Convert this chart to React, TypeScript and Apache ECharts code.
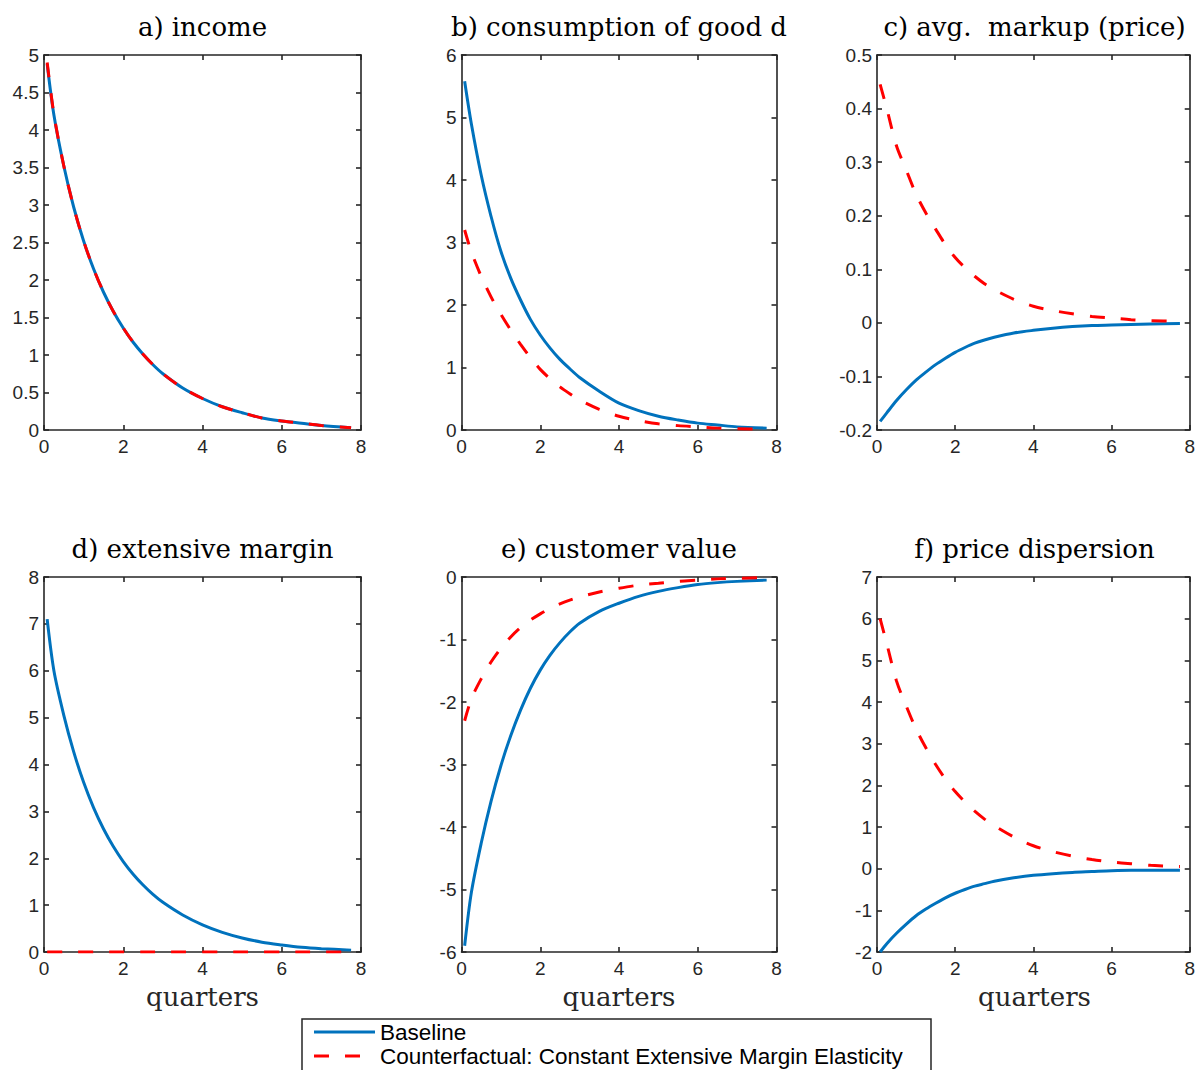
import React, { useEffect, useRef } from "react";
import * as echarts from "echarts";

const quarters = [0.08, 0.25, 0.5, 0.75, 1, 1.25, 1.5, 1.75, 2, 2.25, 2.5, 2.75, 3, 3.5, 4, 4.5, 5, 5.5, 6, 6.5, 7, 7.75];

const incomeBase = [4.88, 4.2, 3.52, 2.97, 2.52, 2.15, 1.84, 1.58, 1.36, 1.17, 1.01, 0.87, 0.75, 0.56, 0.42, 0.31, 0.23, 0.16, 0.12, 0.09, 0.06, 0.03];
const incomeCf = [4.9, 4.21, 3.52, 2.97, 2.52, 2.15, 1.84, 1.58, 1.36, 1.17, 1.01, 0.87, 0.75, 0.56, 0.42, 0.31, 0.23, 0.16, 0.12, 0.09, 0.06, 0.03];

const consBase = [5.58, 4.9, 4.08, 3.42, 2.86, 2.43, 2.08, 1.77, 1.52, 1.31, 1.13, 0.98, 0.84, 0.62, 0.43, 0.31, 0.22, 0.16, 0.11, 0.08, 0.05, 0.03];
const consCf = [3.2, 2.85, 2.46, 2.13, 1.85, 1.6, 1.37, 1.16, 0.97, 0.82, 0.69, 0.58, 0.48, 0.33, 0.22, 0.15, 0.1, 0.07, 0.05, 0.03, 0.02, 0.01];

const markupBase = [-0.184, -0.168, -0.145, -0.125, -0.107, -0.092, -0.078, -0.066, -0.055, -0.046, -0.038, -0.032, -0.027, -0.019, -0.014, -0.01, -0.007, -0.005, -0.004, -0.003, -0.002, -0.001];
const markupCf = [0.445, 0.4, 0.33, 0.285, 0.24, 0.205, 0.175, 0.146, 0.122, 0.103, 0.087, 0.073, 0.062, 0.044, 0.031, 0.023, 0.017, 0.012, 0.009, 0.006, 0.004, 0.003];

const extBase = [7.1, 6.0, 5.05, 4.27, 3.62, 3.08, 2.63, 2.25, 1.93, 1.66, 1.43, 1.23, 1.06, 0.79, 0.58, 0.42, 0.3, 0.21, 0.15, 0.1, 0.07, 0.04];
const extCf = [0, 0, 0, 0, 0, 0, 0, 0, 0, 0, 0, 0, 0, 0, 0, 0, 0, 0, 0, 0, 0, 0];

const custBase = [-5.9, -5.05, -4.26, -3.59, -3.02, -2.54, -2.13, -1.78, -1.49, -1.25, -1.05, -0.88, -0.74, -0.55, -0.42, -0.31, -0.23, -0.17, -0.12, -0.09, -0.07, -0.05];
const custCf = [-2.3, -1.95, -1.63, -1.36, -1.14, -0.96, -0.81, -0.69, -0.59, -0.5, -0.43, -0.37, -0.32, -0.24, -0.18, -0.13, -0.1, -0.07, -0.05, -0.03, -0.02, -0.01];

const dispBase = [-2.0, -1.8, -1.55, -1.33, -1.13, -0.97, -0.83, -0.7, -0.59, -0.5, -0.42, -0.36, -0.3, -0.22, -0.16, -0.12, -0.09, -0.07, -0.05, -0.04, -0.04, -0.04];
const dispCf = [6.0, 5.4, 4.5, 3.9, 3.35, 2.9, 2.5, 2.15, 1.85, 1.6, 1.38, 1.19, 1.03, 0.76, 0.55, 0.41, 0.3, 0.22, 0.16, 0.12, 0.08, 0.05];

const titles = ["a) income", "b) consumption of good d", "c) avg.  markup (price)", "d) extensive margin", "e) customer value", "f) price dispersion"];
const baseSeries = [incomeBase, consBase, markupBase, extBase, custBase, dispBase];
const cfSeries = [incomeCf, consCf, markupCf, extCf, custCf, dispCf];
const yMins = [0, 0, -0.2, 0, -6, -2];
const yMaxs = [5, 6, 0.5, 8, 0, 7];
const yIntervals = [0.5, 1, 0.1, 1, 1, 1];
const xTickMin = 0;
const xTickMax = 8;
const xTickInterval = 2;
const xLabelText = "quarters";
const legendNames = ["Baseline", "Counterfactual: Constant Extensive Margin Elasticity"];

const AXIS_COLOR = "#262626";
const BLUE = "#0072BD";
const RED = "#FF0000";
const gridLefts = [44, 461.5, 877];
const gridWidths = [317, 315, 315];
const gridTops = [55, 577];
const gridHeight = 375;

export default function App() {
  const ref = useRef<HTMLDivElement>(null);
  useEffect(() => {
    document.body.style.margin = "0";
    if (!ref.current) return;
    const chart = echarts.init(ref.current, undefined, { renderer: "svg" });

    const grids: any[] = [];
    const xAxes: any[] = [];
    const yAxes: any[] = [];
    const series: any[] = [];
    const graphics: any[] = [];

    const lineStyle = { color: AXIS_COLOR, width: 1.6 };
    const tickStyle = { color: AXIS_COLOR, width: 1.6 };
    const labelStyle = { color: AXIS_COLOR, fontSize: 19, fontFamily: "Liberation Sans" };

    for (let i = 0; i < 6; i++) {
      const col = i % 3;
      const row = Math.floor(i / 3);
      const left = gridLefts[col];
      const top = gridTops[row];
      const width = gridWidths[col];
      grids.push({ left, top, width, height: gridHeight, containLabel: false });

      const xBase = {
        gridIndex: i,
        type: "value",
        min: xTickMin,
        max: xTickMax,
        interval: xTickInterval,
        splitLine: { show: false },
        axisLine: { show: true, onZero: false, lineStyle },
        axisTick: { show: true, inside: true, length: 5, lineStyle: tickStyle },
      };
      xAxes.push({ ...xBase, position: "bottom", axisLabel: { ...labelStyle, margin: 7 } });
      xAxes.push({ ...xBase, position: "top", axisLabel: { show: false } });

      const yBase = {
        gridIndex: i,
        type: "value",
        min: yMins[i],
        max: yMaxs[i],
        interval: yIntervals[i],
        splitLine: { show: false },
        axisLine: { show: true, onZero: false, lineStyle },
        axisTick: { show: true, inside: true, length: 5, lineStyle: tickStyle },
      };
      yAxes.push({
        ...yBase,
        position: "left",
        axisLabel: {
          ...labelStyle,
          margin: 5,
          formatter: (v: number) => String(Math.round(v * 1000) / 1000),
        },
      });
      yAxes.push({ ...yBase, position: "right", axisLabel: { show: false } });

      series.push({
        name: legendNames[0],
        type: "line",
        xAxisIndex: 2 * i,
        yAxisIndex: 2 * i,
        data: quarters.map((q, k) => [q, baseSeries[i][k]]),
        smooth: 0.3,
        showSymbol: false,
        symbol: "none",
        lineStyle: { color: BLUE, width: 3 },
        z: 2,
      });
      series.push({
        name: legendNames[1],
        type: "line",
        xAxisIndex: 2 * i,
        yAxisIndex: 2 * i,
        data: quarters.map((q, k) => [q, cfSeries[i][k]]),
        smooth: 0.3,
        showSymbol: false,
        symbol: "none",
        lineStyle: { color: RED, width: 3, type: [15, 16] },
        z: 3,
      });

      graphics.push({
        type: "text",
        x: left + width / 2,
        y: top - 28,
        style: {
          text: titles[i],
          align: "center",
          verticalAlign: "middle",
          fontSize: 26,
          fontFamily: "DejaVu Serif",
          fill: "#000",
        },
      });
      if (row === 1) {
        graphics.push({
          type: "text",
          x: left + width / 2,
          y: top + gridHeight + 45,
          style: {
            text: xLabelText,
            align: "center",
            verticalAlign: "middle",
            fontSize: 26,
            fontFamily: "DejaVu Serif",
            fill: AXIS_COLOR,
          },
        });
      }
    }

    // legend box
    graphics.push({
      type: "rect",
      shape: { x: 302, y: 1019, width: 629, height: 60 },
      style: { fill: "#fff", stroke: AXIS_COLOR, lineWidth: 1.5 },
      z: 10,
    });
    graphics.push({
      type: "line",
      shape: { x1: 314, y1: 1032, x2: 375, y2: 1032 },
      style: { stroke: BLUE, lineWidth: 3 },
      z: 11,
    });
    graphics.push({
      type: "line",
      shape: { x1: 314, y1: 1056, x2: 375, y2: 1056 },
      style: { stroke: RED, lineWidth: 3, lineDash: [15, 16] },
      z: 11,
    });
    graphics.push({
      type: "text",
      x: 380,
      y: 1032,
      style: { text: legendNames[0], align: "left", verticalAlign: "middle", fontSize: 22.5, fontFamily: "Liberation Sans", fill: "#000" },
      z: 11,
    });
    graphics.push({
      type: "text",
      x: 380,
      y: 1056,
      style: { text: legendNames[1], align: "left", verticalAlign: "middle", fontSize: 22.5, fontFamily: "Liberation Sans", fill: "#000" },
      z: 11,
    });

    chart.setOption({
      animation: false,
      backgroundColor: "#fff",
      grid: grids,
      xAxis: xAxes,
      yAxis: yAxes,
      series,
      graphic: graphics,
    });
    return () => chart.dispose();
  }, []);
  return <div ref={ref} style={{ width: 1198, height: 1070 }} />;
}
